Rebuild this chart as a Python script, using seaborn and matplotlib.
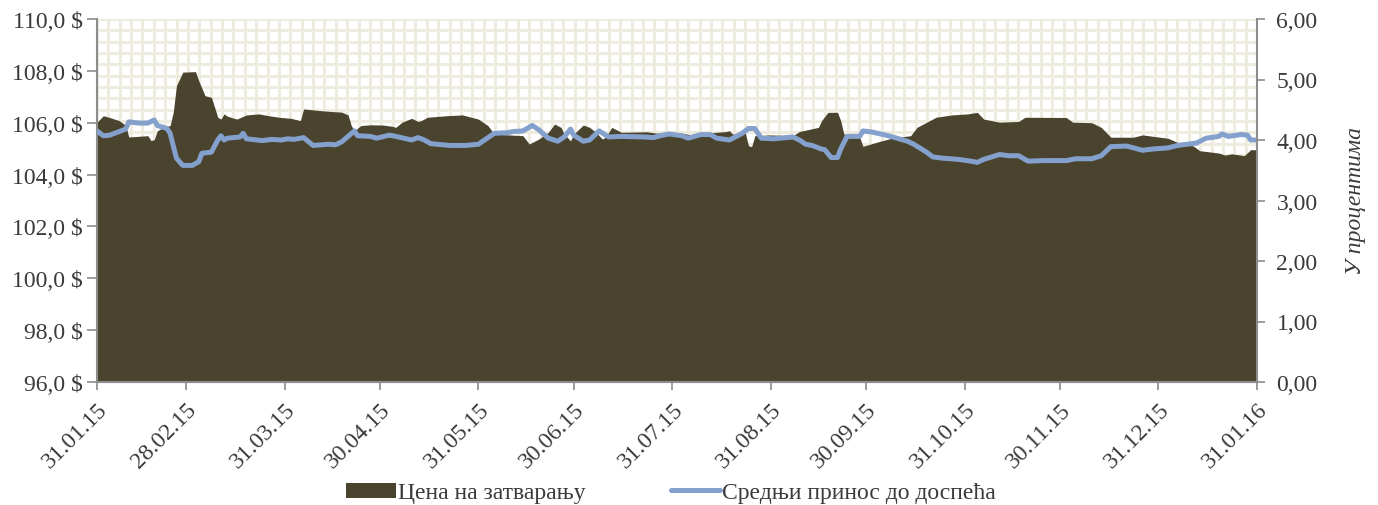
import numpy as np
import pandas as pd
import matplotlib
matplotlib.use('Agg')
import matplotlib.pyplot as plt
import matplotlib.dates as mdates
from matplotlib.patches import Patch
from matplotlib.lines import Line2D
from matplotlib.ticker import FuncFormatter
import seaborn as sns

start = pd.Timestamp('2015-01-31')

# closing price (days since 31.01.2015, USD)
price_days = [0, 2, 4, 7, 9, 10, 16, 17, 18, 19, 21, 23, 24, 25, 27, 31, 32, 34, 36, 38,
              39, 40, 41, 44, 47, 51, 54, 58, 61, 64, 65, 70, 74, 77, 79, 80, 81, 83, 86, 90,
              93, 94, 96, 99, 101, 102, 104, 110, 115, 120, 123, 125, 134, 136, 139, 142, 144, 146, 147, 149,
              150, 153, 155, 157, 159, 160, 162, 165, 173, 176, 184, 188, 192, 198, 199, 200, 204, 205, 206, 207,
              212, 219, 221, 227, 228, 230, 233, 234, 235, 238, 240, 241, 246, 250, 256, 258, 262, 264, 269, 274,
              277, 279, 284, 290, 292, 305, 307, 313, 316, 319, 326, 329, 332, 337, 340, 345, 347, 353, 355, 357,
              361, 363, 365]
price_values = [106.02, 106.27, 106.20, 106.08, 105.90, 105.45, 105.50, 105.31, 105.35, 105.69,
                105.83, 105.89, 106.41, 107.43, 107.95, 107.97, 107.62, 107.04, 106.98, 106.21,
                106.14, 106.34, 106.25, 106.14, 106.30, 106.34, 106.27, 106.20, 106.17, 106.08,
                106.53, 106.47, 106.43, 106.41, 106.30, 105.89, 105.69, 105.89, 105.92, 105.91,
                105.86, 105.82, 106.02, 106.17, 106.05, 106.08, 106.21, 106.27, 106.30, 106.14,
                105.89, 105.56, 105.50, 105.18, 105.37, 105.63, 105.95, 105.82, 105.56, 105.30,
                105.56, 105.91, 105.82, 105.63, 105.37, 105.44, 105.82, 105.63, 105.65, 105.60,
                105.60, 105.50, 105.60, 105.66, 105.69, 105.56, 105.60, 105.11, 105.08, 105.50,
                105.53, 105.50, 105.66, 105.82, 106.08, 106.40, 106.40, 106.08, 105.56, 105.50,
                105.44, 105.09, 105.27, 105.40, 105.50, 105.82, 106.08, 106.21, 106.30, 106.34,
                106.40, 106.14, 106.02, 106.05, 106.21, 106.20, 106.02, 106.00, 105.82, 105.44,
                105.44, 105.53, 105.48, 105.40, 105.24, 105.10, 104.92, 104.83, 104.75, 104.80,
                104.73, 104.96, 104.96]

# average yield to maturity (percent)
yield_days = [0, 2, 4, 7, 9, 10, 13, 16, 18, 19, 22, 23, 25, 27, 30, 32, 33, 36, 38, 39,
              40, 41, 43, 45, 46, 47, 52, 55, 58, 60, 62, 65, 68, 73, 75, 77, 81, 82, 86, 88,
              92, 94, 99, 101, 103, 105, 111, 116, 120, 125, 129, 131, 134, 137, 139, 142, 145, 147, 149, 150,
              153, 155, 158, 161, 165, 172, 175, 178, 180, 184, 186, 190, 193, 195, 199, 203, 205, 207, 209, 213,
              219, 221, 223, 225, 228, 229, 231, 233, 234, 236, 240, 241, 244, 249, 255, 257, 261, 263, 266, 271,
              275, 277, 279, 284, 287, 290, 293, 298, 305, 308, 313, 316, 319, 324, 329, 332, 337, 340, 346, 349,
              353, 354, 356, 360, 362, 363, 365]
yield_values = [4.15, 4.07, 4.08, 4.14, 4.18, 4.30, 4.28, 4.28, 4.33, 4.24,
                4.19, 4.11, 3.70, 3.58, 3.58, 3.64, 3.78, 3.80, 4.00, 4.07,
                4.00, 4.03, 4.04, 4.05, 4.11, 4.02, 3.99, 4.01, 4.00, 4.02,
                4.01, 4.04, 3.91, 3.93, 3.92, 3.97, 4.15, 4.07, 4.06, 4.03,
                4.08, 4.06, 4.00, 4.04, 4.00, 3.94, 3.91, 3.91, 3.93, 4.11,
                4.12, 4.14, 4.15, 4.24, 4.17, 4.03, 3.98, 4.05, 4.18, 4.08,
                3.98, 4.00, 4.15, 4.05, 4.06, 4.05, 4.04, 4.08, 4.10, 4.07,
                4.03, 4.09, 4.09, 4.03, 4.00, 4.11, 4.19, 4.19, 4.03, 4.02,
                4.05, 4.00, 3.93, 3.91, 3.85, 3.84, 3.71, 3.71, 3.85, 4.06,
                4.06, 4.15, 4.13, 4.07, 3.98, 3.93, 3.80, 3.72, 3.70, 3.68,
                3.65, 3.63, 3.68, 3.76, 3.74, 3.74, 3.65, 3.66, 3.66, 3.69,
                3.69, 3.74, 3.89, 3.90, 3.83, 3.85, 3.87, 3.91, 3.95, 4.03,
                4.06, 4.10, 4.06, 4.09, 4.08, 4.00, 4.00]

tick_dates = ['2015-01-31', '2015-02-28', '2015-03-31', '2015-04-30', '2015-05-31',
              '2015-06-30', '2015-07-31', '2015-08-31', '2015-09-30', '2015-10-31',
              '2015-11-30', '2015-12-31', '2016-01-31']

price_df = pd.DataFrame({'date': start + pd.to_timedelta(price_days, unit='D'), 'price': price_values})
yield_df = pd.DataFrame({'date': start + pd.to_timedelta(yield_days, unit='D'), 'yield': yield_values})

sns.set_theme(style='white')
plt.rcParams['font.family'] = ['Liberation Serif', 'DejaVu Serif']

area_color = '#4A432E'
line_color = '#84A1CD'
spine_color = '#8C8C8C'
text_color = '#3A3A3A'
fs = 17

fig = plt.figure(figsize=(13.78, 5.06), dpi=100)
pos = [97 / 1378, 1 - 383 / 506, 1160 / 1378, 363 / 506]

# patterned background (cream grid)
bg = fig.add_axes(pos, zorder=0)
bg.set_xlim(0, 102)
bg.set_ylim(32, 0)
bg.set_xticks(np.arange(0, 103))
bg.set_yticks(np.arange(0, 33))
bg.grid(True, color='#EEEBDF', linewidth=2.2)
bg.tick_params(length=0, labelbottom=False, labelleft=False)
for s in bg.spines.values():
    s.set_visible(False)

ax = fig.add_axes(pos, zorder=1)
ax.patch.set_visible(False)
ax.fill_between(price_df['date'], 96, price_df['price'], color=area_color, linewidth=0)
ax.set_ylim(96, 110)
ax.set_yticks(np.arange(96, 111, 2))
ax.yaxis.set_major_formatter(FuncFormatter(lambda v, p: f'{v:.1f}'.replace('.', ',') + ' $'))
ax.set_xlim(pd.Timestamp(tick_dates[0]), pd.Timestamp(tick_dates[-1]))
ax.set_xticks(pd.to_datetime(tick_dates))
ax.xaxis.set_major_formatter(mdates.DateFormatter('%d.%m.%y'))
plt.setp(ax.get_xticklabels(), rotation=45, ha='right', rotation_mode='anchor')
ax.set_xlabel('')
ax.set_ylabel('')

ax2 = ax.twinx()
ax2.set_zorder(2)
ax2.patch.set_visible(False)
sns.lineplot(data=yield_df, x='date', y='yield', ax=ax2, color=line_color, linewidth=3.6)
ax2.set_ylim(0, 6)
ax2.set_yticks(np.arange(0, 6.5, 1))
ax2.yaxis.set_major_formatter(FuncFormatter(lambda v, p: f'{v:.2f}'.replace('.', ',')))
ax2.set_xlabel('')
ax2.set_ylabel('У процентима', fontsize=fs, style='italic', color=text_color, labelpad=20)

for a in (ax, ax2):
    a.spines['top'].set_visible(False)
    for s in ('left', 'right', 'bottom'):
        a.spines[s].set_color(spine_color)
        a.spines[s].set_linewidth(1.5)
    a.tick_params(axis='both', which='major', direction='out', length=6, width=1.2,
                  color=spine_color, labelsize=fs, labelcolor=text_color, pad=4)
ax.spines['right'].set_visible(False)
ax2.spines['left'].set_visible(False)
ax.tick_params(axis='x', bottom=True, pad=6)
ax.tick_params(axis='y', left=True, length=7, pad=3)
ax2.tick_params(axis='y', right=True, pad=8)

handles = [Patch(facecolor=area_color, edgecolor='none'),
           Line2D([0], [0], color=line_color, linewidth=3.6)]
labels = ['Цена на затварању', 'Средњи принос до доспећа']
fig.legend(handles, labels, loc='center', bbox_to_anchor=(0.487, 0.024), ncol=2, frameon=False,
           fontsize=fs, handlelength=2.1, handleheight=0.6, handletextpad=0.1, columnspacing=3.6,
           labelcolor=text_color)

fig.savefig('out.png', dpi=100)
